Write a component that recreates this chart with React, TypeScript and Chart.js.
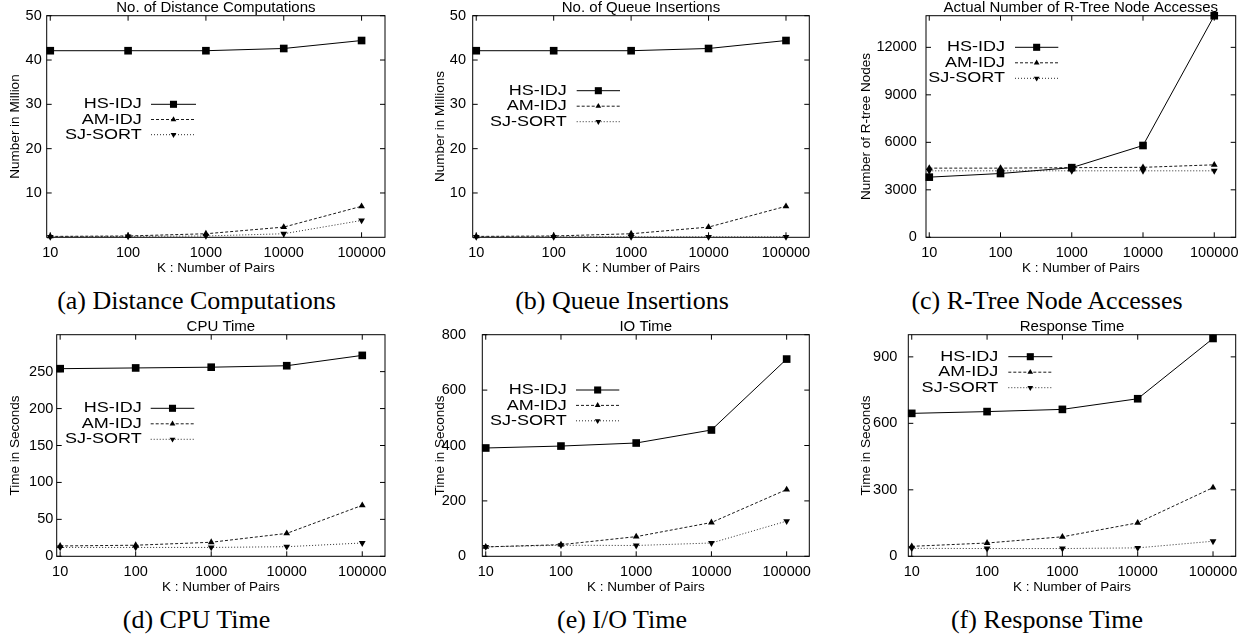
import React, { useEffect, useRef, useState } from 'react';
import { Chart, registerables } from 'chart.js';

Chart.register(...registerables);

// ---------- data ----------
const kValues = [10, 100, 1000, 10000, 100000];
const xTickValues = [10, 100, 1000, 10000, 100000];
const seriesNames = ['HS-IDJ', 'AM-IDJ', 'SJ-SORT'];
const xTitle = 'K : Number of Pairs';

const distHS = [42.1, 42.1, 42.1, 42.6, 44.4];
const distAM = [0.2, 0.3, 0.8, 2.3, 7.0];
const distSJ = [0.1, 0.2, 0.3, 0.8, 3.8];

const queueHS = [42.1, 42.1, 42.1, 42.6, 44.4];
const queueAM = [0.2, 0.3, 0.8, 2.3, 7.0];
const queueSJ = [0.1, 0.1, 0.1, 0.1, 0.1];

const nodeHS = [3800, 4030, 4400, 5800, 14000];
const nodeAM = [4370, 4370, 4400, 4420, 4580];
const nodeSJ = [4200, 4200, 4200, 4200, 4200];

const cpuHS = [254, 255, 256, 258, 272];
const cpuAM = [14, 15, 19, 31, 69];
const cpuSJ = [12, 12, 12, 13, 18];

const ioHS = [391, 398, 409, 456, 712];
const ioAM = [34, 42, 71, 122, 241];
const ioSJ = [34, 40, 39, 48, 127];

const respHS = [645, 653, 663, 711, 983];
const respAM = [45, 60, 88, 151, 310];
const respSJ = [36, 35, 35, 38, 68];

const millionTicks = [10, 20, 30, 40, 50];
const nodeTicks = [0, 3000, 6000, 9000, 12000];
const cpuTicks = [0, 50, 100, 150, 200, 250];
const ioTicks = [0, 200, 400, 600, 800];
const respTicks = [0, 300, 600, 900];

// ---------- layout ----------
const ROW_H = 278;
const PLOT_TOP = 15.7;
const PLOT_BOTTOM = 237.3;
const TICK_FONT = 14.5;

type PanelCfg = {
  title: string;
  yTitle: string;
  caption: string;
  series: number[][];
  yMax: number;
  yTicks: number[];
  left: number;
  top: number;
  w: number;
  plotLeft: number;
  plotRight: number;
  yTickPad: number;
  yTitleCenter: number;
  legend: { textRight: number; y0: number; dy: number; x1: number; x2: number };
  capX: number;
  capBase: number;
};

const panels: PanelCfg[] = [
  {
    title: 'No. of Distance Computations', yTitle: 'Number in Million', caption: '(a) Distance Computations',
    series: [distHS, distAM, distSJ], yMax: 50, yTicks: millionTicks,
    left: 0, top: 0, w: 405, plotLeft: 46.7, plotRight: 385, yTickPad: 5, yTitleCenter: 15,
    legend: { textRight: 141.7, y0: 104.3, dy: 15.2, x1: 151, x2: 196 },
    capX: 196.5, capBase: 310,
  },
  {
    title: 'No. of Queue Insertions', yTitle: 'Number in Millions', caption: '(b) Queue Insertions',
    series: [queueHS, queueAM, queueSJ], yMax: 50, yTicks: millionTicks,
    left: 420, top: 0, w: 410, plotLeft: 52.7, plotRight: 389.3, yTickPad: 6.7, yTitleCenter: 20.7,
    legend: { textRight: 146.7, y0: 90.7, dy: 15.5, x1: 156.7, x2: 200 },
    capX: 622, capBase: 310,
  },
  {
    title: 'Actual Number of R-Tree Node Accesses', yTitle: 'Number of R-tree Nodes', caption: '(c) R-Tree Node Accesses',
    series: [nodeHS, nodeAM, nodeSJ], yMax: 14000, yTicks: nodeTicks,
    left: 840, top: 0, w: 413, plotLeft: 86, plotRight: 395.7, yTickPad: 9.3, yTitleCenter: 26.7,
    legend: { textRight: 165, y0: 47.3, dy: 15.5, x1: 175, x2: 218.3 },
    capX: 1047, capBase: 310,
  },
  {
    title: 'CPU Time', yTitle: 'Time in Seconds', caption: '(d) CPU Time',
    series: [cpuHS, cpuAM, cpuSJ], yMax: 300, yTicks: cpuTicks,
    left: 0, top: 319, w: 405, plotLeft: 56.7, plotRight: 385, yTickPad: 3.4, yTitleCenter: 15,
    legend: { textRight: 141.7, y0: 89.3, dy: 15.5, x1: 150.7, x2: 194.3 },
    capX: 196.5, capBase: 628.3,
  },
  {
    title: 'IO Time', yTitle: 'Time in Seconds', caption: '(e) I/O Time',
    series: [ioHS, ioAM, ioSJ], yMax: 800, yTicks: ioTicks,
    left: 420, top: 319, w: 410, plotLeft: 62.3, plotRight: 389.3, yTickPad: 16.3, yTitleCenter: 20.7,
    legend: { textRight: 146.7, y0: 71, dy: 15.4, x1: 156, x2: 199.3 },
    capX: 622, capBase: 628.3,
  },
  {
    title: 'Response Time', yTitle: 'Time in Seconds', caption: '(f) Response Time',
    series: [respHS, respAM, respSJ], yMax: 1000, yTicks: respTicks,
    left: 840, top: 319, w: 413, plotLeft: 68.3, plotRight: 395.7, yTickPad: 11, yTitleCenter: 26.7,
    legend: { textRight: 158.3, y0: 37.7, dy: 15.5, x1: 168.3, x2: 212.3 },
    capX: 1047, capBase: 628.3,
  },
];

const seriesStyles = [
  { borderColor: '#000', borderDash: [] as number[], pointStyle: 'rect', pointRadius: 5.4, pointRotation: 0 },
  { borderColor: '#1a1a1a', borderDash: [3, 2], pointStyle: 'triangle', pointRadius: 3.9, pointRotation: 0 },
  { borderColor: '#2a2a2a', borderDash: [1, 2], pointStyle: 'triangle', pointRadius: 3.9, pointRotation: 180 },
];

Chart.defaults.font.family = "'Liberation Sans', Arial, Helvetica, sans-serif";
Chart.defaults.color = '#000';

const framePlugin = {
  id: 'gnuFrame',
  beforeDatasetsDraw(chart: any) {
    const { ctx, chartArea: a, scales } = chart;
    const tl = 5;
    ctx.save();
    ctx.strokeStyle = '#000';
    ctx.lineWidth = 1;
    ctx.setLineDash([]);
    ctx.strokeRect(a.left, a.top, a.right - a.left, a.bottom - a.top);
    ctx.beginPath();
    for (const t of scales.y.ticks) {
      const py = scales.y.getPixelForValue(t.value);
      ctx.moveTo(a.left, py); ctx.lineTo(a.left + tl, py);
      ctx.moveTo(a.right, py); ctx.lineTo(a.right - tl, py);
    }
    for (const t of scales.x.ticks) {
      const px = scales.x.getPixelForValue(t.value);
      ctx.moveTo(px, a.bottom); ctx.lineTo(px, a.bottom - tl);
      ctx.moveTo(px, a.top); ctx.lineTo(px, a.top + tl);
    }
    ctx.stroke();
    ctx.restore();
  },
};

function drawMarker(ctx: CanvasRenderingContext2D, style: string, rot: number, r: number, x: number, y: number) {
  ctx.beginPath();
  if (style === 'rect') {
    const s = r * Math.SQRT1_2;
    ctx.rect(x - s, y - s, 2 * s, 2 * s);
  } else {
    let rad = (rot * Math.PI) / 180;
    for (let i = 0; i < 3; i++) {
      const px = x + Math.sin(rad) * r;
      const py = y - Math.cos(rad) * r;
      if (i === 0) ctx.moveTo(px, py); else ctx.lineTo(px, py);
      rad += (2 * Math.PI) / 3;
    }
    ctx.closePath();
  }
  ctx.fill();
}

function makeLegendPlugin(cfg: PanelCfg) {
  return {
    id: 'gnuLegend',
    afterDatasetsDraw(chart: any) {
      const { ctx } = chart;
      const L = cfg.legend;
      chart.data.datasets.forEach((ds: any, i: number) => {
        const y = L.y0 + i * L.dy;
        ctx.save();
        ctx.fillStyle = '#000';
        ctx.font = "15px 'Liberation Sans', Arial, sans-serif";
        ctx.textAlign = 'right';
        ctx.textBaseline = 'middle';
        ctx.translate(L.textRight, y);
        ctx.scale(1.2, 1);
        ctx.fillText(ds.label, 0, 0);
        ctx.restore();

        ctx.save();
        ctx.strokeStyle = ds.borderColor;
        ctx.lineWidth = 1;
        ctx.setLineDash(ds.borderDash || []);
        ctx.beginPath();
        ctx.moveTo(L.x1, y);
        ctx.lineTo(L.x2, y);
        ctx.stroke();
        ctx.setLineDash([]);
        ctx.fillStyle = '#000';
        const r = ds.pointStyle === 'rect' ? 5 : 3.3;
        drawMarker(ctx, ds.pointStyle, ds.pointRotation || 0, r, (L.x1 + L.x2) / 2, y);
        ctx.restore();
      });
    },
  };
}

function buildConfig(cfg: PanelCfg): any {
  return {
    type: 'line',
    data: {
      datasets: cfg.series.map((vals, i) => ({
        label: seriesNames[i],
        data: kValues.map((k, j) => ({ x: k, y: vals[j] })),
        borderColor: seriesStyles[i].borderColor,
        borderDash: seriesStyles[i].borderDash,
        borderWidth: 1,
        backgroundColor: '#000',
        pointBackgroundColor: '#000',
        pointBorderWidth: 0,
        pointStyle: seriesStyles[i].pointStyle,
        pointRadius: seriesStyles[i].pointRadius,
        pointRotation: seriesStyles[i].pointRotation,
        tension: 0,
        fill: false,
        clip: false,
      })),
    },
    options: {
      animation: false,
      responsive: false,
      maintainAspectRatio: false,
      events: [],
      layout: { padding: { left: 0, top: 0, right: cfg.w - cfg.plotRight, bottom: 0 } },
      plugins: {
        legend: { display: false },
        tooltip: { enabled: false },
        title: {
          display: true,
          text: cfg.title,
          fullSize: false,
          color: '#000',
          font: { size: 15, lineHeight: 1, weight: 'normal' },
          padding: { top: 0, bottom: PLOT_TOP - 15 },
        },
      },
      scales: {
        x: {
          type: 'logarithmic',
          min: 9,
          max: 200000,
          afterBuildTicks: (s: any) => { s.ticks = xTickValues.map((v) => ({ value: v })); },
          afterFit: (s: any) => { s.height = ROW_H - PLOT_BOTTOM; s.paddingLeft = 0; s.paddingRight = 0; },
          grid: { display: false, drawTicks: false },
          border: { display: false },
          ticks: {
            autoSkip: false, maxRotation: 0, minRotation: 0, padding: 7.3, color: '#000',
            font: { size: TICK_FONT },
            callback: (v: any) => String(v),
          },
          title: {
            display: true, text: xTitle, color: '#000',
            font: { size: 13.5 }, padding: { top: 0, bottom: 2 },
          },
        },
        y: {
          type: 'linear',
          min: 0,
          max: cfg.yMax,
          afterBuildTicks: (s: any) => { s.ticks = cfg.yTicks.map((v) => ({ value: v })); },
          afterFit: (s: any) => { s.width = cfg.plotLeft; s.paddingTop = 0; s.paddingBottom = 0; },
          grid: { display: false, drawTicks: false },
          border: { display: false },
          ticks: {
            padding: cfg.yTickPad, color: '#000', font: { size: TICK_FONT },
            callback: (v: any) => String(v),
          },
          title: {
            display: true, text: cfg.yTitle, color: '#000',
            font: { size: 13.5 }, padding: { top: cfg.yTitleCenter - 8.1, bottom: 0 },
          },
        },
      },
    },
    plugins: [framePlugin, makeLegendPlugin(cfg)],
  };
}

function Panel({ cfg }: { cfg: PanelCfg }) {
  const ref = useRef<HTMLCanvasElement | null>(null);
  const [err, setErr] = useState('');
  useEffect(() => {
    if (!ref.current) return;
    let chart: Chart | null = null;
    try {
      chart = new Chart(ref.current, buildConfig(cfg));
    } catch (e: any) {
      setErr(String(e && e.stack ? e.stack : e));
    }
    return () => { if (chart) chart.destroy(); };
  }, [cfg]);
  return (
    <>
      <canvas
        ref={ref}
        width={cfg.w}
        height={ROW_H}
        style={{ position: 'absolute', left: cfg.left, top: cfg.top, width: cfg.w, height: ROW_H }}
      />
      {err ? (
        <pre style={{ position: 'absolute', left: cfg.left, top: cfg.top + 20, width: cfg.w, fontSize: 9, whiteSpace: 'pre-wrap' }}>{err}</pre>
      ) : null}
      <div
        style={{
          position: 'absolute',
          left: cfg.capX - 200,
          top: cfg.capBase - 21.8,
          width: 400,
          textAlign: 'center',
          fontFamily: "'Liberation Serif', 'Times New Roman', serif",
          fontSize: 26,
          lineHeight: '26px',
          color: '#000',
          whiteSpace: 'nowrap',
        }}
      >
        {cfg.caption}
      </div>
    </>
  );
}

export default function App() {
  return (
    <div>
      {panels.map((p, i) => (
        <Panel key={i} cfg={p} />
      ))}
    </div>
  );
}
